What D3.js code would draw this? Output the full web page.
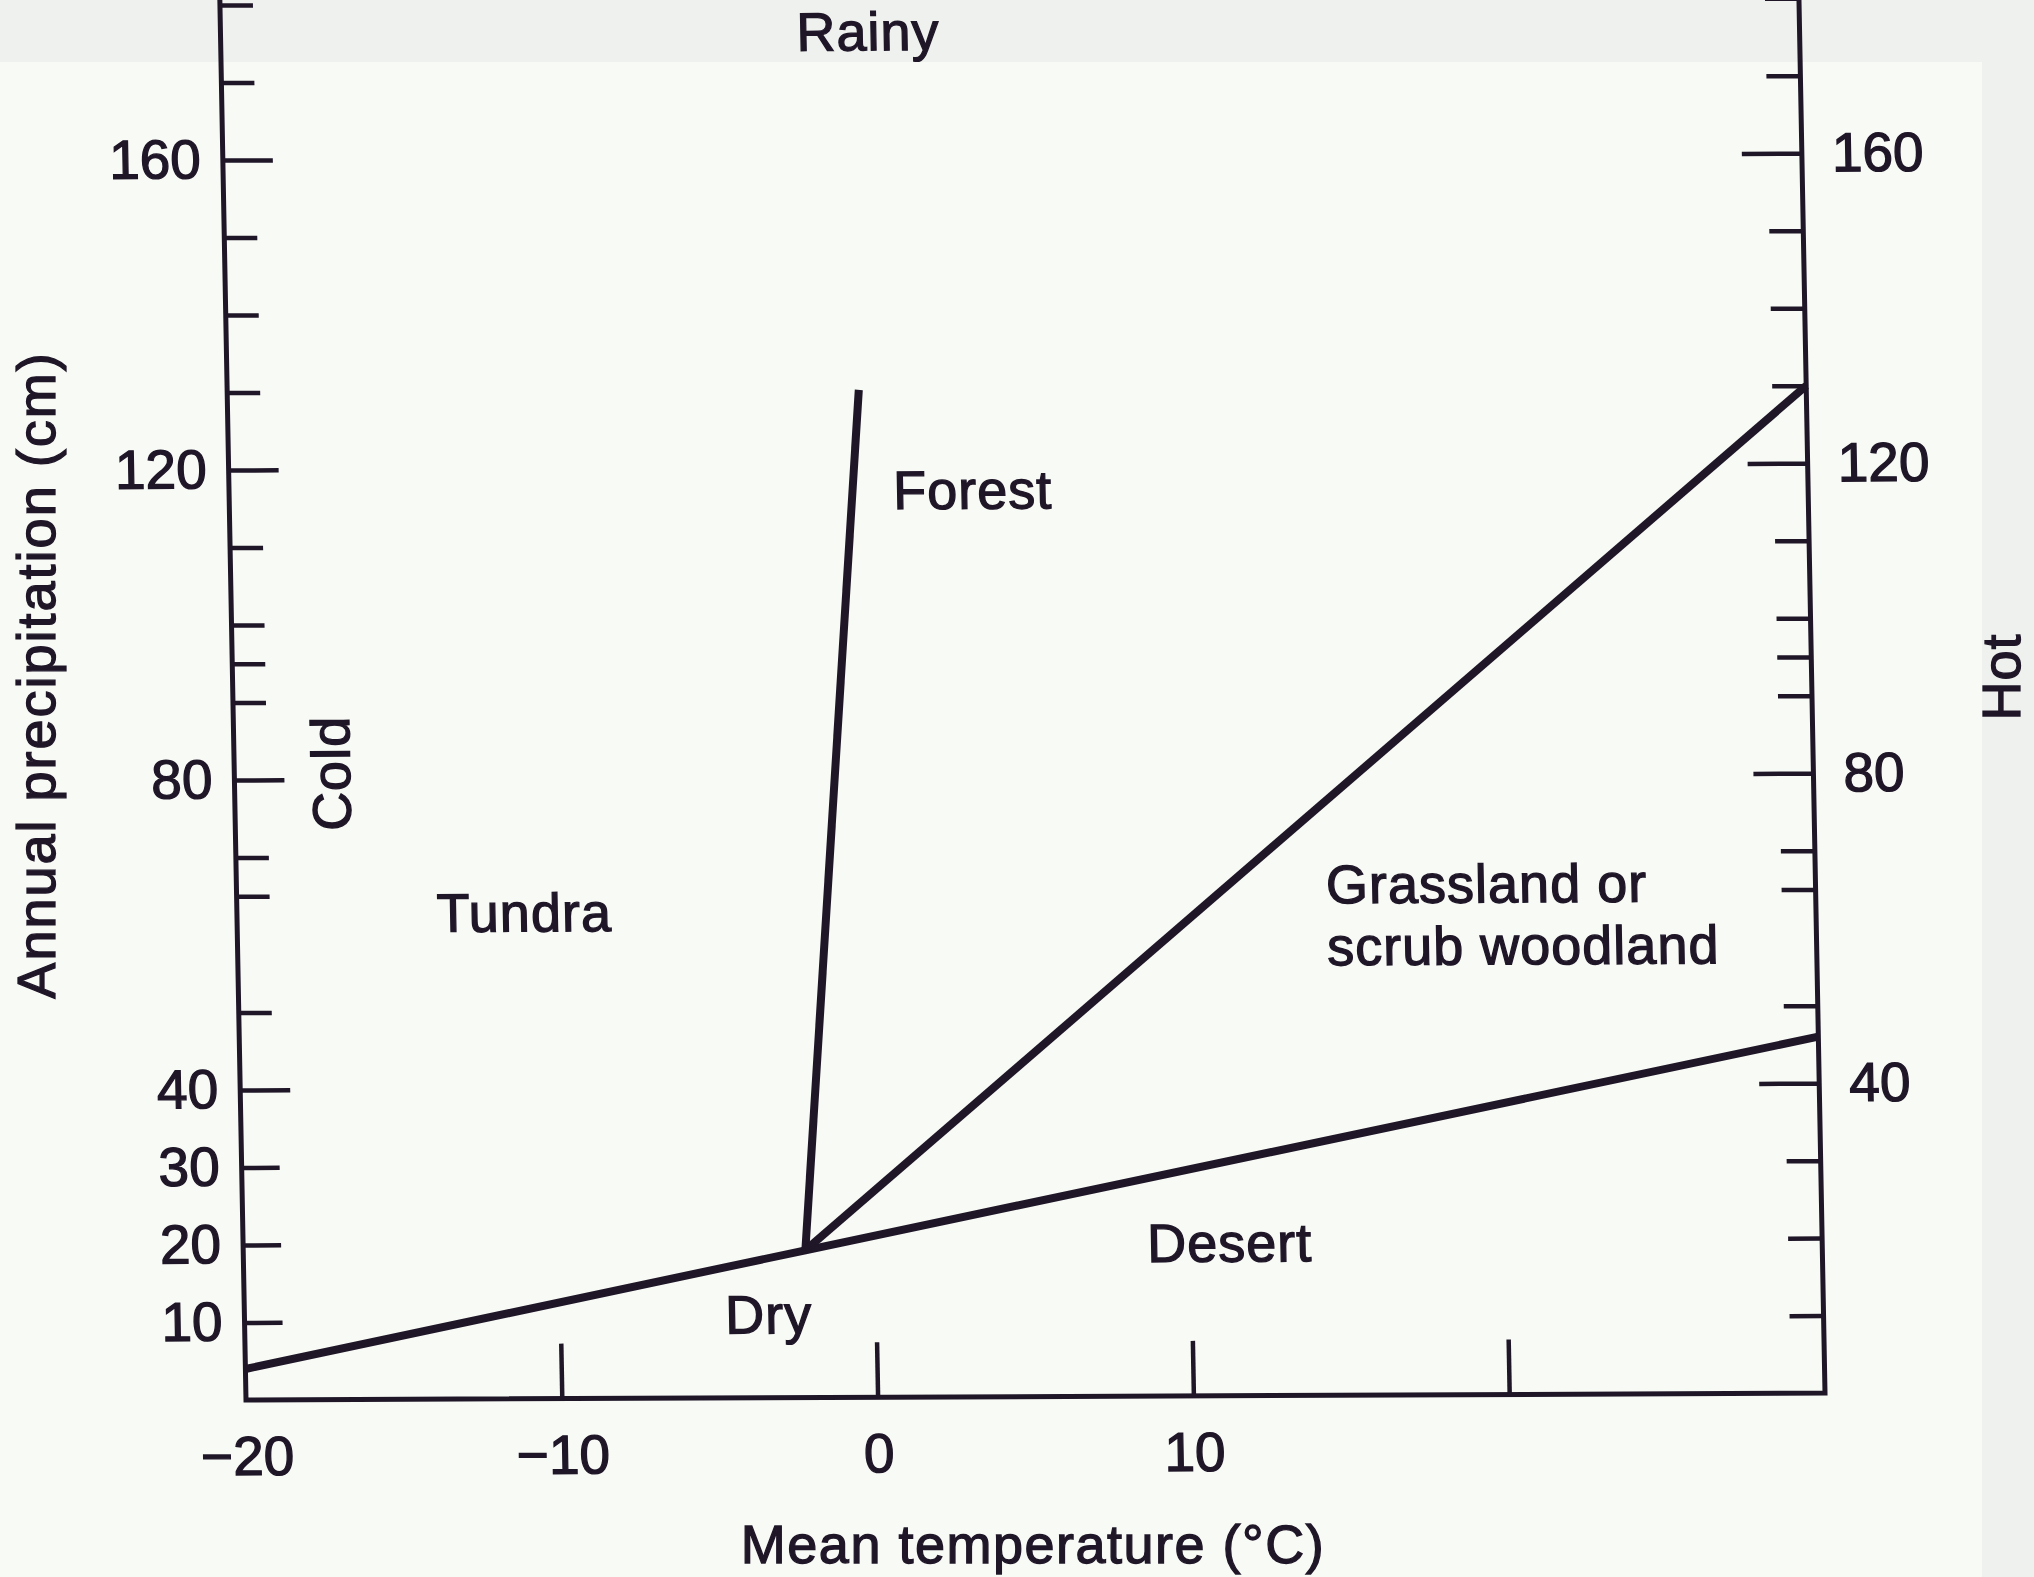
<!DOCTYPE html>
<html>
<head>
<meta charset="utf-8">
<script src="https://cdn.jsdelivr.net/npm/d3@7"></script>
<style>
  body { margin: 0; background: #f8faf5; }
  svg { display: block; }
</style>
</head>
<body>
<svg id="chart" width="2034" height="1577"></svg>
<script>
// ticks
const xTickMarks = [-10, 0, 10, 20];
const xTickLabels = [-20, -10, 0, 10];
const yLongTicks = [40, 80, 120, 160];
const yMidTicks = [10, 20, 30];
const yMinorTicks = [50, 65, 70, 90, 95, 100, 110, 130, 140, 150, 170, 180];

// boundary lines, [temperature, precipitation]
const dryLine = [[-20, 4], [-2.2, 19], [30, 46]];
const forestLine = [[-2.2, 19], [0, 130]];
const grassLine = [[-2.2, 19], [30, 130]];

// region names, [temperature, precipitation] where each sits
const regionNames = ["Rainy", "Forest", "Tundra", "Grassland or", "scrub woodland", "Desert", "Dry"];
const regionSpots = [[0.5, 173.8], [3.55, 114.6], [-10.9, 60.3], [14.5, 63.5], [14.5, 55.5], [11.24, 17.3], [-3.4, 8.3]];
const regionAnchor = ["middle", "middle", "middle", "start", "start", "middle", "middle"];

const ink = "#1f1628";
const font = "'Liberation Sans', Arial, sans-serif";

const svg = d3.select("#chart");
svg.append("rect").attr("width", 2034).attr("height", 1577).attr("fill", "#f8faf5");
svg.append("rect").attr("width", 2034).attr("height", 62).attr("fill", "#eef1ed");
svg.append("rect").attr("x", 1982).attr("width", 52).attr("height", 1577).attr("fill", "#eef1ed");

// the scan leans a little, so the plot is skewed to match
const g = svg.append("g")
  .attr("transform", "translate(246,1400) skewY(-0.25) skewX(1.07)")
  .style("color", ink);

const x = d3.scaleLinear().domain([-20, 30]).range([0, 1579]);
const y = d3.scaleLinear().domain([0, 180]).range([0, -1395]);

// scanned print looks a bit heavy, so texts get a thin outline
function inked(sel) {
  sel.attr("fill", ink).attr("stroke", ink).attr("stroke-width", 1.3);
}

function styleAxis(sel) {
  sel.select(".domain").remove();
  sel.attr("font-size", 55).attr("font-family", font);
  sel.selectAll(".tick line").attr("stroke-width", 4.5);
  sel.selectAll(".tick text").call(inked);
}

// left axis
g.append("g").call(d3.axisLeft(y).tickValues(yLongTicks).tickSize(-50).tickPadding(22)).call(styleAxis);
g.append("g").call(d3.axisLeft(y).tickValues(yMidTicks).tickSize(-38).tickPadding(22)).call(styleAxis);
g.append("g").call(d3.axisLeft(y).tickValues(yMinorTicks).tickSize(-33).tickFormat("")).call(styleAxis);

// right axis
g.append("g").attr("transform", `translate(${x(30)},0)`)
  .call(d3.axisRight(y).tickValues(yLongTicks).tickSize(-60).tickPadding(30)).call(styleAxis);
g.append("g").attr("transform", `translate(${x(30)},0)`)
  .call(d3.axisRight(y).tickValues(yMidTicks.concat(yMinorTicks)).tickSize(-34).tickFormat("")).call(styleAxis);

// bottom axis
g.append("g").call(d3.axisBottom(x).tickValues(xTickMarks).tickSize(-55).tickFormat("")).call(styleAxis);
g.append("g").call(d3.axisBottom(x).tickValues(xTickLabels).tickSize(0).tickPadding(36)).call(styleAxis);

// frame
g.append("path")
  .attr("d", d3.line()([[x(-20), y(186)], [x(-20), y(0)], [x(30), y(0)], [x(30), y(186)]]))
  .attr("fill", "none").attr("stroke", ink).attr("stroke-width", 5)
  .attr("stroke-linejoin", "miter");

const line = d3.line().x(d => x(d[0])).y(d => y(d[1]));
[dryLine, forestLine, grassLine].forEach(pts => {
  g.append("path").attr("d", line(pts))
    .attr("fill", "none").attr("stroke", ink).attr("stroke-width", 8)
    .attr("stroke-linejoin", "round");
});

g.selectAll("text.region")
  .data(regionNames)
  .join("text")
  .attr("class", "region")
  .attr("x", (d, i) => x(regionSpots[i][0]))
  .attr("y", (d, i) => y(regionSpots[i][1]))
  .attr("text-anchor", (d, i) => regionAnchor[i])
  .attr("font-family", font).attr("font-size", 54)
  .attr("letter-spacing", 1)
  .call(inked)
  .text(d => d);

g.append("text")
  .attr("transform", `translate(${x(-16.34)},${y(80.8)}) rotate(-90)`)
  .attr("text-anchor", "middle")
  .attr("font-family", font).attr("font-size", 54)
  .attr("letter-spacing", 1)
  .call(inked)
  .text("Cold");

// outside labels
svg.append("text")
  .attr("transform", "translate(2020,677) rotate(-90)")
  .attr("text-anchor", "middle")
  .attr("font-family", font).attr("font-size", 54)
  .attr("letter-spacing", 1)
  .call(inked)
  .text("Hot");

svg.append("text")
  .attr("transform", "translate(55,675) rotate(-90)")
  .attr("text-anchor", "middle")
  .attr("font-family", font).attr("font-size", 54)
  .attr("letter-spacing", 2)
  .call(inked)
  .text("Annual precipitation (cm)");

svg.append("text")
  .attr("x", 1033).attr("y", 1563)
  .attr("text-anchor", "middle")
  .attr("font-family", font).attr("font-size", 54)
  .attr("letter-spacing", 1.5)
  .call(inked)
  .text("Mean temperature (°C)");
</script>
</body>
</html>
